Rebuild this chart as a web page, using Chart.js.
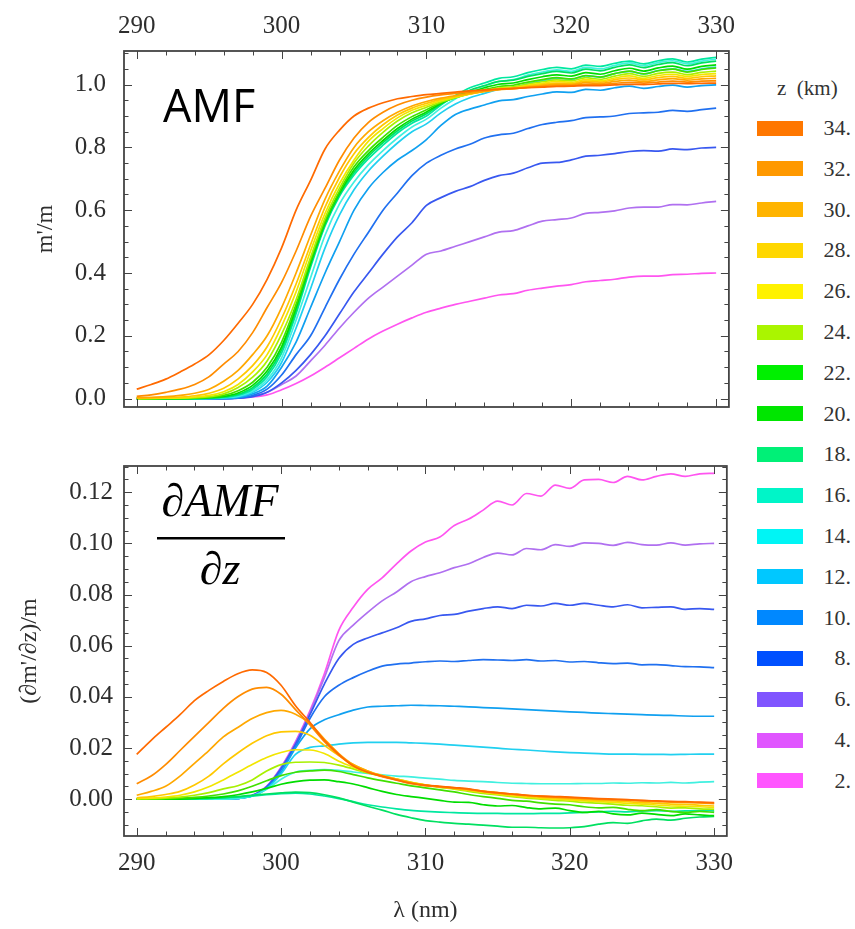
<!DOCTYPE html>
<html><head><meta charset="utf-8">
<script src="https://cdn.jsdelivr.net/npm/chart.js@4.4.1/dist/chart.umd.min.js"></script>
<style>
html,body{margin:0;padding:0;background:#fff;}
#wrap{position:relative;width:855px;height:929px;overflow:hidden;background:#fff;}
canvas{position:absolute;left:0;}
.lg-title{position:absolute;left:777px;top:76px;font:21px 'Liberation Serif',serif;color:#333;white-space:pre;line-height:24px;}
.sw{position:absolute;left:757px;width:46px;height:15px;}
.lb{position:absolute;left:800px;width:51px;text-align:right;font:22px 'Liberation Serif',serif;color:#333;line-height:24px;}
</style></head>
<body><div id="wrap">
<canvas id="cTop" width="745" height="440" style="top:0px"></canvas>
<canvas id="cBot" width="745" height="489" style="top:440px"></canvas>
<div id="legend"></div>
</div>
<script>
// ---------- data ----------
const wavelength = [290,291,292,293,294,295,296,297,298,299,
  300,301,302,303,304,305,306,307,308,309,
  310,311,312,313,314,315,316,317,318,319,
  320,321,322,323,324,325,326,327,328,329,330];

const altitudeLabels = ['34.','32.','30.','28.','26.','24.','22.','20.','18.','16.','14.','12.','10.','8.','6.','4.','2.'];
// legend swatch colours (as shown in the legend)
const legendColors = ['#FF7700','#FF9900','#FFB400','#FFD700','#FFF200','#AAF500','#00F000','#00E600','#00F077','#00F5C8','#00F5F5','#00C8FF','#0088FF','#0050FF','#8055FF','#E055FF','#FF55FF'];
// line colours (as they appear in the plot)
const lineColors = ['#FF6A00','#FF8C00','#FFA800','#FFC800','#F2E600','#A8F000','#40E000','#00DD00','#00E060','#00E8A0','#40F0E0','#20D0F0','#10A0F0','#2070F0','#3858F0','#B070F0','#FF55F0'];

const xTickValues = [290,300,310,320,330];
const topYTickValues = [0,0.2,0.4,0.6,0.8,1.0];
const topYTickLabels = ['0.0','0.2','0.4','0.6','0.8','1.0'];
const botYTickValues = [0,0.02,0.04,0.06,0.08,0.10,0.12];
const botYTickLabels = ['0.00','0.02','0.04','0.06','0.08','0.10','0.12'];

// AMF (m'/m)
const amf34 = [.030,.045,.062,.085,.110,.140,.185,.240,.300,.380, .480,.600,.695,.795,.855,.900,.925,.942,.955,.962, .968,.972,.976,.980,.983,.986,.988,.990,.992,.994, .995,.997,.997,.999,1.001,1.000,1.002,1.004,1.003,1.004, 1.005];
const amf32 = [.007,.012,.020,.030,.045,.070,.110,.150,.210,.290, .370,.470,.580,.670,.760,.830,.880,.912,.935,.950, .960,.967,.972,.977,.981,.985,.987,.991,.994,.997, .997,1.001,1.000,1.004,1.007,1.005,1.008,1.011,1.008,1.011, 1.012];
const amf30 = [.003,.004,.006,.010,.017,.030,.055,.090,.140,.200, .290,.400,.520,.635,.725,.800,.850,.885,.912,.932, .946,.957,.965,.972,.978,.984,.987,.992,.997,1.001, 1.000,1.006,1.004,1.010,1.014,1.010,1.015,1.019,1.014,1.018, 1.020];
const amf28 = [.001,.002,.003,.005,.009,.017,.033,.063,.105,.165, .255,.365,.490,.610,.705,.780,.832,.872,.903,.925, .940,.953,.962,.970,.978,.985,.988,.995,1.000,1.005, 1.003,1.011,1.008,1.016,1.021,1.015,1.022,1.026,1.020,1.025, 1.028];
const amf26 = [.000,.001,.001,.002,.005,.010,.022,.045,.085,.140, .230,.340,.470,.590,.685,.760,.820,.860,.894,.918, .934,.949,.960,.970,.979,.987,.990,.998,1.004,1.010, 1.007,1.016,1.012,1.021,1.028,1.020,1.029,1.033,1.026,1.032, 1.035];
const amf24 = [.000,.000,.001,.001,.003,.006,.015,.035,.068,.120, .205,.315,.450,.575,.670,.750,.805,.848,.884,.910, .928,.945,.958,.970,.980,.989,.993,1.002,1.009,1.015, 1.012,1.022,1.017,1.027,1.035,1.026,1.036,1.040,1.032,1.039, 1.043];
const amf22 = [.000,.000,.000,.000,.001,.004,.010,.025,.052,.100, .180,.300,.440,.565,.660,.738,.790,.832,.870,.898, .920,.942,.958,.972,.984,.994,.998,1.008,1.016,1.022, 1.018,1.029,1.024,1.035,1.043,1.034,1.044,1.049,1.040,1.048, 1.053];
const amf20 = [.000,.000,.000,.000,.001,.003,.007,.018,.042,.088, .165,.290,.432,.560,.655,.728,.780,.822,.860,.890, .913,.940,.960,.976,.990,1.001,1.005,1.016,1.025,1.031, 1.027,1.038,1.033,1.044,1.052,1.043,1.053,1.059,1.049,1.058, 1.063];
const amf18 = [.000,.000,.000,.000,.000,.002,.005,.014,.035,.078, .155,.280,.425,.555,.650,.720,.772,.815,.853,.884, .907,.938,.962,.982,.997,1.010,1.014,1.026,1.035,1.042, 1.037,1.049,1.044,1.055,1.063,1.054,1.064,1.070,1.060,1.069, 1.075];
const amf16 = [.000,.000,.000,.000,.000,.001,.004,.011,.030,.070, .145,.270,.418,.550,.645,.712,.764,.807,.846,.877, .900,.935,.965,.990,1.005,1.020,1.025,1.038,1.048,1.055, 1.050,1.062,1.058,1.068,1.075,1.066,1.076,1.082,1.072,1.081, 1.087];
const amf14 = [.000,.000,.000,.000,.000,.001,.003,.008,.024,.060, .130,.250,.385,.520,.620,.690,.745,.790,.830,.865, .890,.925,.955,.980,.996,1.010,1.016,1.030,1.040,1.047, 1.042,1.055,1.050,1.061,1.069,1.060,1.070,1.076,1.066,1.075, 1.081];
const amf12 = [.000,.000,.000,.000,.000,.000,.002,.006,.020,.052, .115,.225,.350,.480,.585,.665,.725,.772,.814,.850, .875,.910,.938,.958,.972,.985,.990,1.003,1.012,1.020, 1.016,1.028,1.024,1.035,1.042,1.034,1.045,1.050,1.042,1.050, 1.056];
const amf10 = [.000,.000,.000,.000,.000,.000,.000,.003,.015,.040, .100,.180,.290,.400,.500,.600,.670,.720,.760,.790, .825,.870,.905,.922,.935,.948,.952,.962,.970,.977, .975,.985,.982,.990,.995,.988,.994,.998,.992,.997, .999];
const amf8 = [.000,.000,.000,.000,.000,.000,.000,.002,.010,.030, .075,.140,.200,.290,.380,.460,.530,.600,.655,.710, .750,.775,.795,.810,.830,.840,.845,.860,.873,.880, .885,.895,.897,.900,.908,.910,.912,.918,.915,.920, .925];
const amf6 = [.000,.000,.000,.000,.000,.000,.000,.001,.006,.020, .050,.090,.140,.200,.270,.340,.400,.460,.515,.560, .615,.640,.660,.675,.695,.710,.718,.735,.750,.752, .760,.772,.775,.780,.787,.790,.788,.795,.793,.798, .800];
const amf4 = [.000,.000,.000,.000,.000,.000,.000,.002,.008,.020, .045,.072,.120,.170,.225,.275,.320,.355,.390,.425, .460,.470,.485,.500,.515,.530,.535,.550,.565,.570, .575,.590,.593,.598,.607,.610,.610,.618,.617,.623, .628];
const amf2 = [.000,.000,.000,.000,.000,.000,.000,.001,.005,.012, .028,.048,.072,.100,.130,.160,.190,.215,.237,.257, .275,.288,.300,.310,.320,.330,.334,.345,.352,.358, .363,.372,.376,.380,.387,.390,.390,.395,.396,.399, .400];

// dAMF/dz ((dm'/dz)/m)
const dAmf34 = [.0175,.023,.028,.033,.0385,.0425,.046,.049,.0505,.0495, .0445,.0365,.030,.023,.0175,.013,.0105,.009,.0075,.0062, .0055,.005,.0045,.004,.003,.0025,.002,.0015,.0012,.001, .0008,.0005,.0002,.0000,-.0002,-.0005,-.0007,-.0009,-.0010,-.0012, -.0014];
const dAmf32 = [.006,.009,.0135,.019,.0245,.030,.0355,.040,.043,.0437, .041,.035,.029,.0225,.0172,.013,.0105,.0088,.0074,.006, .0052,.0048,.0043,.0038,.003,.0024,.0019,.0014,.0011,.0008, .0006,.0003,.0000,-.0002,-.0003,-.0006,-.0008,-.0011,-.0012,-.0014, -.0016];
const dAmf30 = [.0015,.003,.005,.009,.014,.019,.0243,.028,.0315,.0338, .0347,.0332,.0295,.0235,.0178,.0135,.011,.009,.0077,.0064, .0055,.0049,.0044,.0038,.0031,.0025,.002,.0015,.0011,.0008, .0005,.0002,-.0001,-.0002,-.0004,-.0007,-.0009,-.0012,-.0013,-.0015, -.0018];
const dAmf28 = [.0005,.001,.0018,.003,.0055,.009,.0138,.018,.0218,.0248, .0263,.0265,.025,.021,.017,.0135,.011,.0092,.0078,.0065, .0055,.0048,.0042,.0036,.0029,.0022,.0017,.0012,.0007,.0004, .0001,-.0002,-.0005,-.0007,-.0010,-.0014,-.0016,-.0020,-.0021,-.0024, -.0027];
const dAmf26 = [.0002,.0004,.0008,.0015,.0028,.0048,.0075,.0105,.0135,.0163, .0182,.0193,.0192,.0178,.0148,.0125,.0105,.0092,.0078,.0066, .0056,.0048,.0041,.0034,.0026,.0019,.0013,.0008,.0003,.0000, -.0003,-.0007,-.0010,-.0013,-.0017,-.0020,-.0023,-.0027,-.0028,-.0030, -.0033];
const dAmf24 = [.0001,.0002,.0004,.0008,.0015,.0025,.004,.0052,.0075,.011, .0135,.0144,.0145,.0143,.0133,.0118,.0102,.009,.0078,.0066, .0055,.0046,.0039,.003,.0022,.0016,.001,.0004,.0000,-.0005, -.0008,-.0013,-.0016,-.0020,-.0024,-.0026,-.0030,-.0035,-.0034,-.0038, -.0040];
const dAmf22 = [.0000,.0001,.0002,.0004,.0007,.0012,.002,.0032,.005,.0072, .0092,.0105,.011,.0113,.0108,.0096,.0083,.0072,.0062,.0052, .0044,.0036,.0028,.0018,.001,.0003,-.0005,-.0008,-.0015,-.0020, -.0022,-.0030,-.0034,-.0032,-.0040,-.0045,-.0041,-.0048,-.0052,-.0048, -.0052];
const dAmf20 = [.0000,.0000,.0000,.0000,.0003,.0006,.001,.0017,.0028,.0042, .0058,.0068,.0074,.0075,.0068,.0059,.0045,.003,.0018,.001, .0003,-.0005,-.0012,-.0013,-.0022,-.0027,-.0025,-.0033,-.0038,-.0035, -.0045,-.0052,-.0048,-.0058,-.0062,-.0055,-.0060,-.0065,-.0058,-.0062, -.0065];
const dAmf18 = [.0000,.0000,.0000,.0000,.0002,.0003,.0006,.001,.0015,.002, .0024,.0027,.0025,.0017,.0005,-.0012,-.0028,-.0043,-.006,-.0073, -.0084,-.009,-.0095,-.0098,-.0102,-.0106,-.011,-.011,-.0112,-.0113, -.0112,-.0108,-.0098,-.0092,-.0095,-.0085,-.0078,-.0082,-.0075,-.0070, -.0068];
const dAmf16 = [.0000,.0000,.0000,.0000,.0000,.0003,.0005,.0008,.0012,.0017, .0021,.0023,.002,.0012,.0002,-.001,-.0022,-.0031,-.0038,-.0044, -.0048,-.0051,-.0053,-.0055,-.0056,-.0056,-.0057,-.0057,-.0056,-.0056, -.0054,-.0052,-.0050,-.0048,-.0050,-.0047,-.0045,-.0048,-.0046,-.0045, -.0046];
const dAmf14 = [.0000,.0000,.0000,.0000,.0000,.0000,.0000,.0003,.0012,.0038, .0078,.0105,.0112,.0115,.0112,.0106,.010,.0095,.009,.0087, .0082,.0078,.0073,.007,.0068,.0065,.0062,.0061,.006,.006, .006,.0061,.0061,.0063,.0062,.0064,.0063,.0065,.0063,.0066, .0068];
const dAmf12 = [.0000,.0000,.0000,.0000,.0000,.0000,.0000,.0003,.0012,.004, .0098,.0175,.0202,.0208,.0215,.022,.0222,.0222,.0222,.022, .0218,.0215,.0211,.0207,.0203,.0199,.0195,.0192,.0188,.0185, .0182,.018,.0178,.0176,.0176,.0175,.0175,.0174,.0175,.0176, .0176];
const dAmf10 = [.0000,.0000,.0000,.0000,.0000,.0000,.0000,.0003,.0012,.0042, .0105,.020,.0275,.031,.033,.0348,.036,.0363,.0365,.0367, .0366,.0365,.0363,.0361,.0358,.0356,.0353,.035,.0347,.0344, .0341,.0339,.0336,.0334,.0332,.033,.0328,.0327,.0325,.0324, .0324];
const dAmf8 = [.0000,.0000,.0000,.0000,.0000,.0000,.0000,.0003,.0013,.0045, .0115,.0205,.0315,.040,.0445,.0475,.050,.052,.0528,.0532, .0537,.054,.0538,.0542,.0545,.0544,.0542,.0545,.054,.0542, .0536,.0538,.0533,.053,.0532,.0525,.0526,.0522,.0518,.0517, .0514];
const dAmf6 = [.0000,.0000,.0000,.0000,.0000,.0000,.0000,.0003,.0014,.0048, .012,.0215,.033,.045,.055,.0605,.063,.065,.067,.0695, .0705,.0718,.0722,.0735,.0745,.0752,.0745,.0758,.0755,.0765, .0758,.0765,.0758,.0752,.076,.0748,.075,.0752,.0742,.0745, .0742];
const dAmf4 = [.0000,.0000,.0000,.0000,.0000,.0000,.0000,.0003,.0015,.005, .0123,.022,.034,.0475,.062,.068,.073,.0775,.081,.085, .087,.0885,.0905,.092,.0945,.0962,.0955,.098,.0975,.0995, .0988,.1002,.1000,.0992,.1004,.0995,.0993,.1002,.0993,.0998, .1000];
const dAmf2 = [.0000,.0000,.0000,.0000,.0000,.0000,.0000,.0003,.0015,.005, .0125,.0225,.0345,.049,.066,.075,.082,.0865,.092,.097, .1005,.1025,.107,.1095,.113,.1165,.115,.1195,.1185,.1228, .1215,.1248,.1250,.1238,.1262,.1248,.1262,.1272,.1262,.1272, .1274];

const amfSeries = [amf34,amf32,amf30,amf28,amf26,amf24,amf22,amf20,amf18,amf16,amf14,amf12,amf10,amf8,amf6,amf4,amf2];
const dAmfSeries = [dAmf34,dAmf32,dAmf30,dAmf28,dAmf26,dAmf24,dAmf22,dAmf20,dAmf18,dAmf16,dAmf14,dAmf12,dAmf10,dAmf8,dAmf6,dAmf4,dAmf2];

// ---------- helpers ----------
const TICK_FONT = {family:"'Liberation Serif', serif", size:25};
const TICK_COLOR = '#2e2e2e';

function makeDatasets(seriesList){
  return seriesList.map((arr,i)=>({
    label: altitudeLabels[i],
    data: wavelength.map((w,j)=>({x:w, y:arr[j]})),
    borderColor: lineColors[i],
    backgroundColor: lineColors[i],
    borderWidth: 1.7,
    pointRadius: 0,
    fill: false,
    tension: 0.4,
    cubicInterpolationMode: 'monotone'
  }));
}

const frameTicks = {
  id: 'frameTicks',
  afterDatasetsDraw(chart, args, o){
    const {ctx, chartArea:a} = chart;
    const xs = chart.scales.x, ys = chart.scales.y;
    ctx.save();
    ctx.strokeStyle = '#444';
    ctx.lineWidth = 1;
    const seg = (x1,y1,x2,y2)=>{ctx.beginPath();ctx.moveTo(x1,y1);ctx.lineTo(x2,y2);ctx.stroke();};
    const isMaj = (v,step)=>Math.abs(v/step - Math.round(v/step)) < 1e-6;
    for (let k = Math.ceil(xs.min/o.xMinor); k*o.xMinor <= xs.max + 1e-9; k++){
      const v = k*o.xMinor;
      const px = Math.round(xs.getPixelForValue(v)) + 0.5;
      const L = isMaj(v,o.xMajor) ? 8 : 4.5;
      seg(px,a.bottom,px,a.bottom-L);
      seg(px,a.top,px,a.top+L);
    }
    for (let k = Math.ceil(ys.min/o.yMinor - 1e-9); k*o.yMinor <= ys.max + 1e-9; k++){
      const v = k*o.yMinor;
      const py = Math.round(ys.getPixelForValue(v)) + 0.5;
      const L = isMaj(v,o.yMajor) ? 8 : 4.5;
      seg(a.left,py,a.left+L,py);
      seg(a.right,py,a.right-L,py);
    }
    ctx.lineWidth = 1.8;
    ctx.strokeRect(a.left, a.top, a.right-a.left, a.bottom-a.top);
    ctx.restore();
  }
};

function baseOptions(cfg){
  return {
    responsive:false, animation:false, events:[],
    layout:{padding:cfg.padding},
    plugins:{legend:{display:false}, tooltip:{enabled:false}, frameTicks:cfg.ticks},
    scales:{
      x:{type:'linear', position:cfg.xPos, min:289.12, max:330.88,
        afterBuildTicks:s=>{s.ticks = xTickValues.map(v=>({value:v}));},
        afterFit:s=>{s.height = cfg.xHeight;},
        grid:{display:false, drawTicks:false}, border:{display:false},
        ticks:{font:TICK_FONT, color:TICK_COLOR, padding:cfg.xPad, maxRotation:0, autoSkip:false,
          callback:(v)=>String(v)},
        title: cfg.xTitle
      },
      y:{type:'linear', min:cfg.yMin, max:cfg.yMax,
        afterBuildTicks:s=>{s.ticks = cfg.yVals.map(v=>({value:v}));},
        afterFit:s=>{s.width = 124;},
        grid:{display:false, drawTicks:false}, border:{display:false},
        ticks:{font:TICK_FONT, color:TICK_COLOR, padding:cfg.yPad, autoSkip:false,
          callback:(v,i)=>cfg.yLabels[i]},
        title:{display:true, text:cfg.yTitle, color:TICK_COLOR,
          font:{family:"'Liberation Serif', serif", size:24}, padding:{top:cfg.yTitlePad, bottom:0}}
      }
    }
  };
}

// ---------- top chart ----------
const topText = {
  id:'topText',
  afterDraw(chart){
    const ctx = chart.ctx;
    ctx.save();
    ctx.fillStyle = '#000';
    ctx.font = "45px 'Open Sans', sans-serif";
    ctx.textBaseline = 'alphabetic';
    ctx.textAlign = 'left';
    ctx.fillText('AMF', 163, 122);
    ctx.restore();
  }
};

new Chart(document.getElementById('cTop'), {
  type:'line',
  data:{datasets: makeDatasets(amfSeries)},
  options: baseOptions({
    padding:{left:0,right:5,top:0,bottom:8},
    xPos:'top', xHeight:51, xPad:10, xTitle:{display:false},
    yMin:-0.0268, yMax:1.107, yVals:topYTickValues, yLabels:topYTickLabels, yPad:18,
    yTitle:"m'/m", yTitlePad:31,
    ticks:{xMajor:10, xMinor:2, yMajor:0.2, yMinor:0.05}
  }),
  plugins:[frameTicks, topText]
});

// ---------- bottom chart ----------
const botText = {
  id:'botText',
  afterDraw(chart){
    const ctx = chart.ctx;
    ctx.save();
    ctx.fillStyle = '#000';
    ctx.font = "italic 46px 'Liberation Serif', serif";
    ctx.textBaseline = 'alphabetic';
    ctx.textAlign = 'center';
    const cx = 220;
    ctx.fillText('\u2202AMF', cx, 76);
    ctx.fillRect(157, 97, 128, 2.5);
    ctx.fillText('\u2202z', cx, 144);
    ctx.restore();
  }
};

new Chart(document.getElementById('cBot'), {
  type:'line',
  data:{datasets: makeDatasets(dAmfSeries)},
  options: baseOptions({
    padding:{left:0,right:5,top:15,bottom:0},
    xPos:'bottom', xHeight:93, xPad:12,
    xTitle:{display:true, text:'\u03bb (nm)', color:TICK_COLOR,
      font:{family:"'Liberation Serif', serif", size:24}, padding:{top:0,bottom:4}},
    yMin:-0.01443, yMax:0.13025, yVals:botYTickValues, yLabels:botYTickLabels, yPad:11,
    yTitle:"(\u2202m'/\u2202z)/m", yTitlePad:15,
    ticks:{xMajor:10, xMinor:2, yMajor:0.02, yMinor:0.005}
  }),
  plugins:[frameTicks, botText]
});

// ---------- legend ----------
(function(){
  const lg = document.getElementById('legend');
  const t = document.createElement('div');
  t.className = 'lg-title'; t.textContent = 'z  (km)';
  lg.appendChild(t);
  altitudeLabels.forEach((lab,i)=>{
    const cy = 128 + i*40.8;
    const sw = document.createElement('div');
    sw.className = 'sw';
    sw.style.top = (cy-7.5)+'px';
    sw.style.background = legendColors[i];
    lg.appendChild(sw);
    const tx = document.createElement('div');
    tx.className = 'lb';
    tx.style.top = (cy-12)+'px';
    tx.textContent = lab;
    lg.appendChild(tx);
  });
})();
</script>
</body></html>
